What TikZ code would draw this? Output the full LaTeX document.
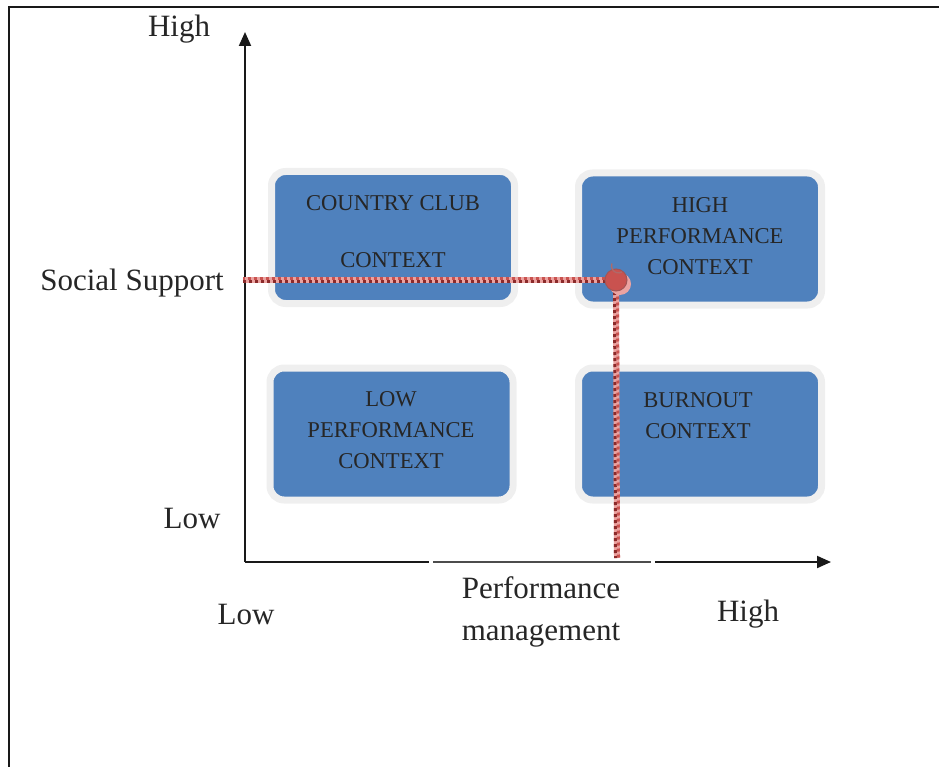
\documentclass[tikz,border=0pt]{standalone}
\usepackage{fontspec}
\setmainfont{Liberation Serif}
\usetikzlibrary{arrows.meta}
\definecolor{boxblue}{HTML}{4F81BD}
\definecolor{ringgrey}{HTML}{EFEFEF}
\definecolor{inkdark}{HTML}{262626}
\definecolor{markdark}{HTML}{8B2A2A}
\definecolor{marklight}{HTML}{EBA3A1}
\definecolor{markmid}{HTML}{C9524F}
\tikzset{
  quadbox/.style={draw=ringgrey, line width=7pt, fill=boxblue, rounded corners=14pt,
    minimum width=243pt, minimum height=132pt, inner sep=0pt},
  boxtext/.style={text=inkdark, align=center, font=\fontsize{22.6}{31}\selectfont, inner sep=0pt},
  axislabel/.style={text=inkdark, font=\fontsize{31}{42}\selectfont, inner sep=0pt, align=center},
  axisline/.style={line width=2pt, draw=black!90},
  arrowtip/.style={-{Triangle[length=14pt,width=12pt]}},
  marker/.style={line width=6pt, draw=marklight},
  markerdark/.style={line width=3pt, draw=markdark, dash pattern=on 3pt off 3pt},
  markermid/.style={line width=3pt, draw=markmid, dash pattern=on 3pt off 3pt, dash phase=1.5pt},
}
\begin{document}
\begin{tikzpicture}[x=1pt, y=-1pt]
\useasboundingbox (0,0) rectangle (939,767);
% frame (left and top edges)
\draw[line width=2pt, black!90] (9,767) -- (9,7.5) -- (939,7.5);

% quadrant boxes
\node[quadbox] (cc) at (393,237.5) {};
\node[quadbox] (hp) at (700,239) {};
\node[quadbox] (lp) at (391.5,434) {};
\node[quadbox] (bo) at (700,434) {};

\node[boxtext] (cct) at (393,232) {COUNTRY CLUB\\[26pt]CONTEXT};
\node[boxtext] (hpt) at (700,236) {HIGH\\PERFORMANCE\\CONTEXT};
\node[boxtext] (lpt) at (391,430) {LOW\\PERFORMANCE\\CONTEXT};
\node[boxtext] (bot) at (698,415.5) {BURNOUT\\CONTEXT};

% axes
\coordinate (o) at (245,562);
\coordinate (ytip) at (245,32);
\coordinate (xtip) at (831,562);
\coordinate (g1) at (429,562);
\coordinate (g2) at (433,562);
\coordinate (g3) at (651,562);
\coordinate (g4) at (655,562);
\draw[axisline, arrowtip] (o) -- (ytip);
\draw[axisline] (o) -- (g1);
\draw[line width=1.4pt, black!70] (g2) -- (g3);
\draw[axisline, arrowtip] (g4) -- (xtip);

% axis labels
\node[axislabel] (yhigh) at (179,29) {High};
\node[axislabel] (ylab) at (132,283) {Social Support};
\node[axislabel] (ylow) at (192,518) {Low};
\node[axislabel] (xlow) at (246,614) {Low};
\node[axislabel] (xlab) at (541,612) {Performance\\management};
\node[axislabel] (xhigh) at (748,614) {High};

% position marker with checkered guide lines
\coordinate (pt) at (616,280);
\coordinate (hl) at (243,280);
\coordinate (vl) at (617,558);
\draw[marker] (hl) -- (pt);
\draw[markerdark] ([yshift=-1.5pt]hl) -- ([yshift=-1.5pt]pt);
\draw[markermid] ([yshift=1.5pt]hl) -- ([yshift=1.5pt]pt);
\draw[marker] (pt) -- (vl);
\draw[markerdark] ([xshift=-1.5pt]pt) -- ([xshift=-1.5pt]vl);
\draw[markermid] ([xshift=1.5pt]pt) -- ([xshift=1.5pt]vl);
\fill[marklight] (620,284) circle (11pt);
\fill[markmid, draw=markdark!80, line width=1pt] (pt) circle (11pt);
\draw[markdark!70, line width=1.3pt] (622,272) arc (-60:-200:7pt);
\end{tikzpicture}
\end{document}
